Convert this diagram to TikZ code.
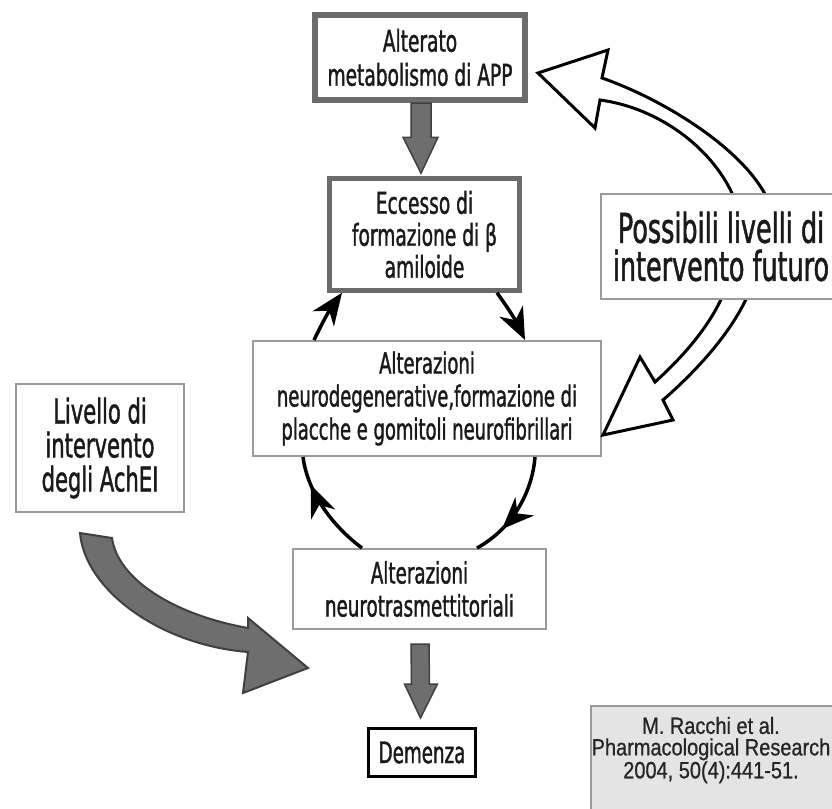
\documentclass[tikz,border=0pt]{standalone}
\usepackage{fontspec}
\newfontfamily\fn[FakeStretch=0.62,FakeBold=1.2]{DejaVu Sans}
\newfontfamily\fw[FakeStretch=0.62,FakeBold=1.2]{DejaVu Sans}
\newfontfamily\fc[FakeStretch=0.85,FakeBold=0.8]{Liberation Sans}
\usetikzlibrary{arrows.meta,calc,decorations.markings}
\definecolor{bordergray}{HTML}{6B6B6B}
\definecolor{thingray}{HTML}{9A9A9A}
\definecolor{arrgray}{HTML}{6E6E6E}
\definecolor{txt}{HTML}{1A1A1A}
\definecolor{citefill}{HTML}{E4E4E4}
\tikzset{
  boxbase/.style={rectangle, fill=white, inner sep=0pt, align=center, text=txt},
  heavybox/.style={boxbase, draw=bordergray, line width=6pt},
  midbox/.style={boxbase, draw=bordergray, line width=4.5pt},
  lightbox/.style={boxbase, draw=thingray, line width=2pt},
  endbox/.style={boxbase, draw=black, line width=3pt},
  cycarrow/.style={line width=3.5pt, -{Stealth[length=32pt,width=26pt,inset=10pt]}},
  midcyc/.style={line width=3.5pt, decoration={markings, mark=at position #1 with {\arrow{Stealth[length=32pt,width=26pt,inset=10pt]}}}, postaction={decorate}},
  blockarrow/.style={fill=arrgray, draw=black!75, line width=1.5pt, line join=miter},
  hollowarrow/.style={fill=white, draw=black, line width=3pt, line join=miter}
}
\begin{document}
\begin{tikzpicture}[x=1pt,y=-1pt]
\useasboundingbox (0,0) rectangle (832,808);
\fill[white] (0,0) rectangle (832,808);

% main boxes
\node[heavybox, minimum width=210pt, minimum height=85pt, font=\fn\fontsize{30}{34}\selectfont] (app) at (420,57.5) {Alterato\\metabolismo di APP};
\node[midbox, minimum width=190pt, minimum height=112pt, font=\fn\fontsize{30}{32}\selectfont] (ecc) at (424.5,234.5) {Eccesso di\\formazione di β\\amiloide};
\node[lightbox, minimum width=348pt, minimum height=115pt, font=\fn\fontsize{29}{33}\selectfont] (neu) at (427,398.5) {Alterazioni\\neurodegenerative,formazione di\\placche e gomitoli neurofibrillari};
\node[lightbox, minimum width=168pt, minimum height=128pt, font=\fw\fontsize{34}{34}\selectfont] (ach) at (100,448) {Livello di\\intervento\\degli AchEI};
\node[lightbox, minimum width=253pt, minimum height=80pt, font=\fn\fontsize{29.5}{33}\selectfont] (ntr) at (419.5,589) {Alterazioni\\neurotrasmettitoriali};
\node[endbox, minimum width=107pt, minimum height=48pt, font=\fn\fontsize{29.5}{33}\selectfont] (dem) at (422,752.5) {Demenza};

% gray block arrows
\path (app.south) ++(1,0) coordinate (g1s);
\path (ecc.north) ++(-3.5,-3) coordinate (g1e);
\draw[blockarrow] ($(g1s)+(-10,0)$) -- ($(g1s)+(10,0)$) -- ($(g1e)+(10,-36)$) -- ($(g1e)+(17,-36)$) -- (g1e) -- ($(g1e)+(-18,-36)$) -- ($(g1e)+(-10,-36)$) -- cycle;
\path (ntr.south) ++(0.5,14) coordinate (g2s);
\path (dem.north) ++(-1.5,-9) coordinate (g2e);
\draw[blockarrow] ($(g2s)+(-9,0)$) -- ($(g2s)+(9,0)$) -- ($(g2e)+(9,-34)$) -- ($(g2e)+(17,-34)$) -- (g2e) -- ($(g2e)+(-16,-34)$) -- ($(g2e)+(-9,-34)$) -- cycle;

% cycle arrows
\draw[cycarrow] ($(neu.north)+(-113,0)$) to[bend left=5] ($(ecc.south)+(-82.5,0)$);
\draw[cycarrow] ($(ecc.south)+(72.5,0)$) to[bend left=5] ($(neu.north)+(98,0)$);
\draw[midcyc=0.72] ($(neu.south)+(108,0)$) .. controls (532,495) and (510,530) .. ($(ntr.north)+(57.5,0)$);
\draw[midcyc=0.74] ($(ntr.north)+(-57.5,0)$) .. controls (335,528) and (308,495) .. ($(neu.south)+(-124,0)$);

% big curved gray arrow from AchEI
\draw[blockarrow, line width=2pt] (80,533) .. controls (85,590) and (160,645) .. (248,652)
  -- (243,693) -- (308,668) -- (248,618) -- (248,628)
  .. controls (175,615) and (118,580) .. (112,538) -- cycle;

% hollow arrows
\draw[hollowarrow] (768,200) .. controls (745,150) and (665,100) .. (602,78) -- (608,50) -- (538,73) -- (595,128) -- (600,100) .. controls (660,108) and (715,150) .. (735,200) -- cycle;
\draw[hollowarrow] (723,295) .. controls (710,325) and (685,355) .. (655,382) -- (640,357) -- (603,435) -- (673,420) -- (663,400) .. controls (695,372) and (730,335) .. (748,295) -- cycle;

\node[lightbox, minimum width=240pt, minimum height=105pt, font=\fn\fontsize{41}{38}\selectfont] (fut) at (721,246.5) {Possibili livelli di\\intervento futuro};

% citation
\draw[fill=citefill, draw=thingray, line width=2pt] (591,706) rectangle (845,820);
\node[inner sep=0pt, align=center, text=black!85, font=\fc\fontsize{23.5}{21.5}\selectfont] (cite) at (711,750) {M. Racchi et al.\\Pharmacological Research\\2004, 50(4):441-51.};
\end{tikzpicture}
\end{document}
